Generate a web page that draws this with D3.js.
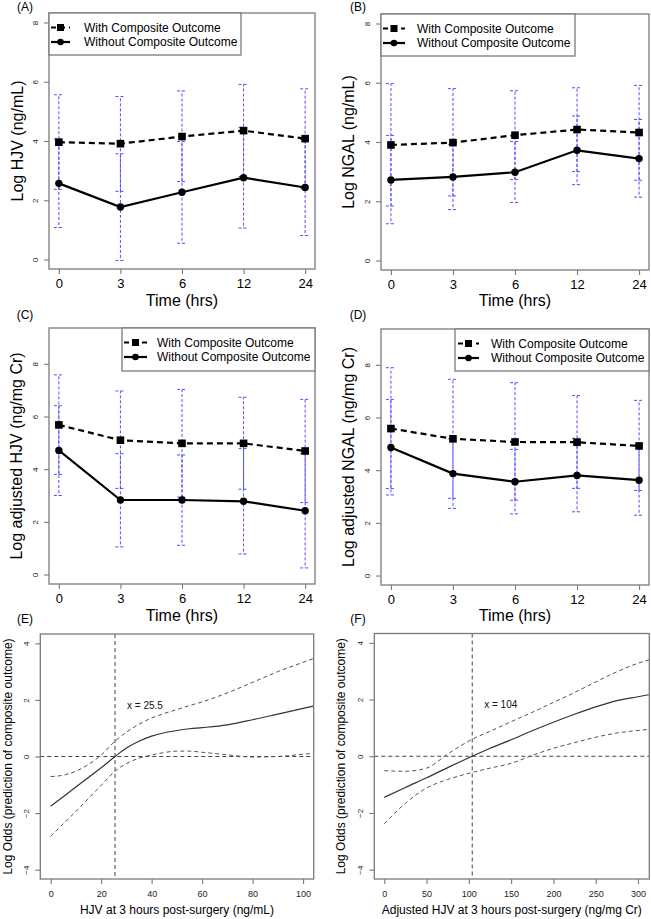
<!DOCTYPE html>
<html>
<head>
<meta charset="utf-8">
<script src="https://cdn.jsdelivr.net/npm/d3@7"></script>
<style>
  html, body { margin: 0; padding: 0; background: #fff; }
  svg { display: block; font-family: "Liberation Sans", Arial, Helvetica, sans-serif; }
</style>
</head>
<body>
<svg id="chart" width="651" height="919"></svg>
<script>
// ---------------- DATA ----------------
const timeLabels = ["0", "3", "6", "12", "24"];
const yTicksTime = [0, 2, 4, 6, 8];

// (A) Log HJV (ng/mL)
const hjvWith        = [3.96, 3.91, 4.15, 4.35, 4.08];
const hjvWithLo      = [2.37, 2.30, 2.63, 2.80, 2.39];
const hjvWithHi      = [5.56, 5.50, 5.69, 5.91, 5.76];
const hjvWithout     = [2.57, 1.77, 2.27, 2.76, 2.43];
const hjvWithoutLo   = [1.08, -0.03, 0.55, 1.06, 0.81];
const hjvWithoutHi   = [4.07, 3.57, 3.98, 4.46, 4.05];

// (B) Log NGAL (ng/mL)
const ngalWith       = [3.90, 3.98, 4.23, 4.42, 4.32];
const ngalWithLo     = [1.84, 2.18, 2.73, 3.00, 2.71];
const ngalWithHi     = [5.97, 5.80, 5.73, 5.83, 5.91];
const ngalWithout    = [2.72, 2.82, 2.98, 3.72, 3.44];
const ngalWithoutLo  = [1.24, 1.72, 1.96, 2.56, 2.14];
const ngalWithoutHi  = [4.22, 3.92, 4.02, 4.88, 4.76];

// (C) Log adjusted HJV (ng/mg Cr)
const adjHjvWith       = [5.68, 5.10, 4.98, 4.98, 4.69];
const adjHjvWithLo     = [3.80, 3.27, 2.94, 3.24, 2.73];
const adjHjvWithHi     = [7.58, 6.97, 7.03, 6.73, 6.65];
const adjHjvWithout    = [4.71, 2.83, 2.83, 2.78, 2.42];
const adjHjvWithoutLo  = [3.00, 1.05, 1.11, 0.78, 0.25];
const adjHjvWithoutHi  = [6.41, 4.59, 4.54, 4.78, 4.59];

// (D) Log adjusted NGAL (ng/mg Cr)
const adjNgalWith      = [5.58, 5.19, 5.07, 5.06, 4.92];
const adjNgalWithLo    = [3.30, 2.93, 2.86, 3.31, 3.23];
const adjNgalWithHi    = [7.89, 7.45, 7.32, 6.83, 6.65];
const adjNgalWithout   = [4.86, 3.87, 3.56, 3.80, 3.62];
const adjNgalWithoutLo = [3.06, 2.55, 2.34, 2.42, 2.29];
const adjNgalWithoutHi = [6.68, 5.19, 4.79, 5.21, 4.95];

// (E) spline: HJV at 3 h vs log odds
const eX     = [0, 5, 10, 15, 20, 25.5, 30, 35, 40, 45, 50, 55, 60, 70, 80, 90, 100, 104];
const eFit   = [-1.76, -1.42, -1.08, -0.74, -0.40, 0.00, 0.30, 0.54, 0.72, 0.84, 0.92, 0.98, 1.02, 1.12, 1.30, 1.50, 1.70, 1.78];
const eUpper = [-0.71, -0.66, -0.52, -0.28, 0.05, 0.54, 0.86, 1.14, 1.36, 1.52, 1.66, 1.80, 1.93, 2.25, 2.62, 3.00, 3.33, 3.46];
const eLower = [-2.82, -2.38, -1.94, -1.48, -1.02, -0.52, -0.25, -0.06, 0.05, 0.14, 0.19, 0.19, 0.15, 0.06, -0.02, 0.00, 0.08, 0.11];
const eCut = 25.5;
const eXTicks = [0, 20, 40, 60, 80, 100];

// (F) spline: adjusted HJV at 3 h vs log odds
const fX     = [0, 25, 50, 75, 104, 125, 150, 175, 200, 225, 250, 275, 300, 313];
const fFit   = [-1.45, -1.10, -0.76, -0.40, 0.00, 0.28, 0.58, 0.90, 1.20, 1.48, 1.74, 1.96, 2.10, 2.17];
const fUpper = [-0.51, -0.53, -0.42, 0.08, 0.60, 0.88, 1.22, 1.55, 1.90, 2.25, 2.62, 2.98, 3.28, 3.40];
const fLower = [-2.38, -1.66, -1.12, -0.82, -0.57, -0.42, -0.25, 0.03, 0.28, 0.48, 0.67, 0.82, 0.91, 0.95];
const fCut = 104;
const fXTicks = [0, 50, 100, 150, 200, 250, 300];

const oddsTicks = [-4, -2, 0, 2, 4];
const legendLabels = ["With Composite Outcome", "Without Composite Outcome"];

// ---------------- DRAWING ----------------
const svg = d3.select("#chart");
const BORDER = "#7a7a7a";
const ERR = "#4f4fff";

function box(g, b) {
  g.append("rect").attr("x", b.x0).attr("y", b.y0)
    .attr("width", b.x1 - b.x0).attr("height", b.y1 - b.y0)
    .attr("fill", "none").attr("stroke", BORDER).attr("stroke-width", 1.3);
}

function styleAxis(ax) {
  ax.select(".domain").remove();
  ax.selectAll(".tick line").attr("stroke", BORDER).attr("stroke-width", 1.1);
}

function drawTimePanel(c) {
  const g = svg.append("g");
  const b = c.box;
  const x = d3.scalePoint().domain(timeLabels).range([b.x0, b.x1]).padding(0.16);
  const y = d3.scaleLinear().domain(c.yDomain).range([b.y1, b.y0]);

  // error bars
  const groups = [
    { lo: c.withLo, hi: c.withHi, off: 0 },
    { lo: c.withoutLo, hi: c.withoutHi, off: 2.5 }
  ];
  groups.forEach(grp => {
    timeLabels.forEach((t, i) => {
      const xx = x(t);
      g.append("line").attr("x1", xx).attr("x2", xx)
        .attr("y1", y(grp.lo[i])).attr("y2", y(grp.hi[i]))
        .attr("stroke", ERR).attr("stroke-width", 1)
        .attr("stroke-dasharray", "3,2").attr("stroke-dashoffset", grp.off);
      [grp.lo[i], grp.hi[i]].forEach(v => {
        g.append("line").attr("x1", xx - 5).attr("x2", xx + 5)
          .attr("y1", y(v)).attr("y2", y(v))
          .attr("stroke", ERR).attr("stroke-width", 1)
          .attr("stroke-dasharray", "3,2");
      });
    });
  });

  const line = d3.line().x((d, i) => x(timeLabels[i])).y(d => y(d));
  g.append("path").datum(c.with).attr("d", line)
    .attr("fill", "none").attr("stroke", "#000").attr("stroke-width", 2.2)
    .attr("stroke-dasharray", "6,4");
  g.append("path").datum(c.without).attr("d", line)
    .attr("fill", "none").attr("stroke", "#000").attr("stroke-width", 2.2);

  g.selectAll(".sq").data(c.with).enter().append("rect")
    .attr("x", (d, i) => x(timeLabels[i]) - 3.8).attr("y", d => y(d) - 3.8)
    .attr("width", 7.6).attr("height", 7.6).attr("fill", "#000");
  g.selectAll(".ci").data(c.without).enter().append("circle")
    .attr("cx", (d, i) => x(timeLabels[i])).attr("cy", d => y(d))
    .attr("r", 3.7).attr("fill", "#000");

  // axes
  const ax = g.append("g").attr("transform", `translate(0,${b.y1})`)
    .call(d3.axisBottom(x).tickSize(5).tickPadding(3));
  styleAxis(ax);
  ax.selectAll("text").attr("font-size", 13).attr("fill", "#000")
    .attr("y", 14).attr("dy", "0.35em");

  const ay = g.append("g").attr("transform", `translate(${b.x0},0)`)
    .call(d3.axisLeft(y).tickValues(yTicksTime).tickSize(5).tickFormat(d3.format("d")));
  styleAxis(ay);
  ay.selectAll("text").attr("font-size", 8).attr("fill", "#222")
    .attr("x", null).attr("dy", null)
    .attr("text-anchor", "middle").attr("dominant-baseline", "central")
    .attr("transform", "translate(-14,0) rotate(-90)");

  box(g, b);

  // legend
  const L = c.legend;
  g.append("rect").attr("x", L.x0).attr("y", L.y0)
    .attr("width", L.x1 - L.x0).attr("height", L.y1 - L.y0)
    .attr("fill", "#fff").attr("stroke", BORDER).attr("stroke-width", 1.3);
  const rowsY = [L.y0 + 14.5, L.y0 + 29];
  rowsY.forEach((ry, k) => {
    const ln = g.append("line").attr("x1", L.s0).attr("x2", L.s1)
      .attr("y1", ry).attr("y2", ry).attr("stroke", "#000").attr("stroke-width", 2.2);
    const mx = (L.s0 + L.s1) / 2;
    if (k === 0) {
      ln.attr("stroke-dasharray", "5,4");
      g.append("rect").attr("x", mx - 3.5).attr("y", ry - 3.5)
        .attr("width", 7).attr("height", 7).attr("fill", "#000");
    } else {
      g.append("circle").attr("cx", mx).attr("cy", ry).attr("r", 3.3).attr("fill", "#000");
    }
    g.append("text").attr("x", L.tx).attr("y", ry).attr("dominant-baseline", "central")
      .attr("font-size", 12).attr("fill", "#000").text(legendLabels[k]);
  });

  // titles
  g.append("text").attr("x", (b.x0 + b.x1) / 2).attr("y", c.xTitleY)
    .attr("text-anchor", "middle").attr("dominant-baseline", "central")
    .attr("font-size", 16).text("Time (hrs)");
  g.append("text")
    .attr("transform", `translate(${c.yTitleX},${(b.y0 + b.y1) / 2}) rotate(-90)`)
    .attr("text-anchor", "middle").attr("dominant-baseline", "central")
    .attr("font-size", 16).text(c.yTitle);
  g.append("text").attr("x", c.letter[1]).attr("y", c.letter[2])
    .attr("text-anchor", "middle").attr("dominant-baseline", "central")
    .attr("font-size", 12).text(c.letter[0]);
}

function drawSplinePanel(c) {
  const g = svg.append("g");
  const b = c.box;
  const x = d3.scaleLinear().domain(c.xDomain).range([b.x0, b.x1]);
  const y = d3.scaleLinear().domain([-4.33, 4.33]).range([b.y1, b.y0]);

  // reference lines
  g.append("line").attr("x1", b.x0).attr("x2", b.x1).attr("y1", y(0)).attr("y2", y(0))
    .attr("stroke", "#444").attr("stroke-width", 1).attr("stroke-dasharray", "4,3");
  g.append("line").attr("x1", x(c.cut)).attr("x2", x(c.cut)).attr("y1", b.y0).attr("y2", b.y1)
    .attr("stroke", "#444").attr("stroke-width", 1).attr("stroke-dasharray", "4,3");

  const line = d3.line().curve(d3.curveMonotoneX).x((d, i) => x(c.xs[i])).y(d => y(d));
  [c.upper, c.lower].forEach(arr => {
    g.append("path").datum(arr).attr("d", line).attr("fill", "none")
      .attr("stroke", "#555").attr("stroke-width", 1).attr("stroke-dasharray", "4,3");
  });
  g.append("path").datum(c.fit).attr("d", line).attr("fill", "none")
    .attr("stroke", "#333").attr("stroke-width", 1.2);

  g.append("text").attr("x", x(c.cut) + 12).attr("y", y(1.82))
    .attr("dominant-baseline", "central").attr("font-size", 10).attr("fill", "#111")
    .text("x = " + c.cut);

  const ax = g.append("g").attr("transform", `translate(0,${b.y1})`)
    .call(d3.axisBottom(x).tickValues(c.xTicks).tickSize(5).tickFormat(d3.format("d")));
  styleAxis(ax);
  ax.selectAll("text").attr("font-size", 9).attr("fill", "#222").attr("y", 15).attr("dy", "0.35em");

  const ay = g.append("g").attr("transform", `translate(${b.x0},0)`)
    .call(d3.axisLeft(y).tickValues(oddsTicks).tickSize(5).tickFormat(d3.format("d")));
  styleAxis(ay);
  ay.selectAll("text").attr("font-size", 8).attr("fill", "#222")
    .attr("x", null).attr("dy", null)
    .attr("text-anchor", "middle").attr("dominant-baseline", "central")
    .attr("transform", "translate(-14,0) rotate(-90)");

  box(g, b);

  g.append("text").attr("x", (b.x0 + b.x1) / 2).attr("y", 910)
    .attr("text-anchor", "middle").attr("dominant-baseline", "central")
    .attr("font-size", 12).text(c.xTitle);
  g.append("text")
    .attr("transform", `translate(${c.yTitleX},${(b.y0 + b.y1) / 2}) rotate(-90)`)
    .attr("text-anchor", "middle").attr("dominant-baseline", "central")
    .attr("font-size", 12).text("Log Odds (prediction of composite outcome)");
  g.append("text").attr("x", c.letter[1]).attr("y", c.letter[2])
    .attr("text-anchor", "middle").attr("dominant-baseline", "central")
    .attr("font-size", 12).text(c.letter[0]);
}

drawTimePanel({
  box: { x0: 49, x1: 315, y0: 13, y1: 269 }, yDomain: [-0.32, 8.32],
  with: hjvWith, withLo: hjvWithLo, withHi: hjvWithHi,
  without: hjvWithout, withoutLo: hjvWithoutLo, withoutHi: hjvWithoutHi,
  legend: { x0: 49, x1: 241, y0: 13, y1: 55, s0: 51, s1: 70, tx: 84 },
  yTitle: "Log HJV (ng/mL)", yTitleX: 17, xTitleY: 300, letter: ["(A)", 25, 7]
});
drawTimePanel({
  box: { x0: 381, x1: 649, y0: 14, y1: 270 }, yDomain: [-0.32, 8.32],
  with: ngalWith, withLo: ngalWithLo, withHi: ngalWithHi,
  without: ngalWithout, withoutLo: ngalWithoutLo, withoutHi: ngalWithoutHi,
  legend: { x0: 381, x1: 575, y0: 14, y1: 56, s0: 383, s1: 405, tx: 417 },
  yTitle: "Log NGAL (ng/mL)", yTitleX: 348, xTitleY: 300, letter: ["(B)", 358, 7]
});
drawTimePanel({
  box: { x0: 49, x1: 315, y0: 328, y1: 584 }, yDomain: [-0.36, 9.36],
  with: adjHjvWith, withLo: adjHjvWithLo, withHi: adjHjvWithHi,
  without: adjHjvWithout, withoutLo: adjHjvWithoutLo, withoutHi: adjHjvWithoutHi,
  legend: { x0: 122, x1: 315, y0: 328, y1: 371, s0: 124, s1: 147, tx: 157 },
  yTitle: "Log adjusted HJV (ng/mg Cr)", yTitleX: 16, xTitleY: 615, letter: ["(C)", 25, 315]
});
drawTimePanel({
  box: { x0: 381, x1: 649, y0: 329, y1: 585 }, yDomain: [-0.36, 9.36],
  with: adjNgalWith, withLo: adjNgalWithLo, withHi: adjNgalWithHi,
  without: adjNgalWithout, withoutLo: adjNgalWithoutLo, withoutHi: adjNgalWithoutHi,
  legend: { x0: 455, x1: 649, y0: 329, y1: 371, s0: 458, s1: 479, tx: 491 },
  yTitle: "Log adjusted NGAL (ng/mg Cr)", yTitleX: 348, xTitleY: 615, letter: ["(D)", 358, 315]
});
drawSplinePanel({
  box: { x0: 40.3, x1: 313.7, y0: 634, y1: 879 }, xDomain: [-4.1, 104.2],
  xs: eX, fit: eFit, upper: eUpper, lower: eLower, cut: eCut, xTicks: eXTicks,
  xTitle: "HJV at 3 hours post-surgery (ng/mL)", yTitleX: 8, letter: ["(E)", 25, 619]
});
drawSplinePanel({
  box: { x0: 374.3, x1: 649.3, y0: 633.5, y1: 879 }, xDomain: [-11.8, 313.4],
  xs: fX, fit: fFit, upper: fUpper, lower: fLower, cut: fCut, xTicks: fXTicks,
  xTitle: "Adjusted HJV at 3 hours post-surgery (ng/mg Cr)", yTitleX: 341, letter: ["(F)", 358, 619]
});
</script>
</body>
</html>
